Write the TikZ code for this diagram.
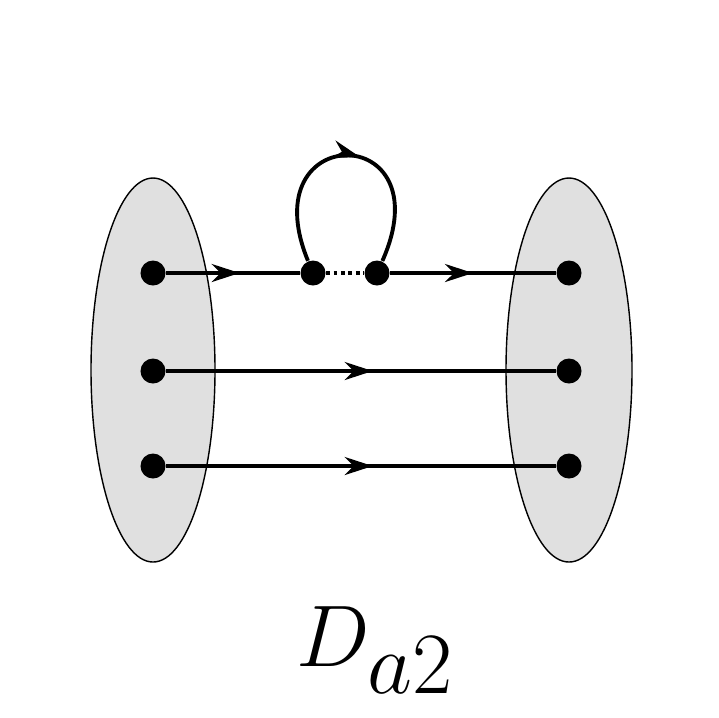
\documentclass[tikz,border=0pt]{standalone}
\usetikzlibrary{arrows.meta,decorations.markings}
\begin{document}
\begin{tikzpicture}[x=0.01cm,y=-0.01cm,
  dot/.style={circle,fill=black,minimum size=0.25cm,inner sep=0pt},
  blob/.style={draw,fill=black!12,thin},
  mid/.style={line width=1.1pt,postaction={decorate},decoration={markings,mark=at position #1 with {\arrow{Stealth[length=0.28cm,width=0.18cm]}}}}]
  \useasboundingbox (0,0) rectangle (719,717);
	\draw[blob] (153,370) ellipse (62 and 192);
	\draw[blob] (569,370) ellipse (63 and 192);

	\node[dot] (l1) at (153,273) {};
	\node[dot] (l2) at (153,371) {};
	\node[dot] (l3) at (153,466) {};
	\node[dot] (r1) at (569,273) {};
	\node[dot] (r2) at (569,371) {};
	\node[dot] (r3) at (569,466) {};
	\node[dot] (m1) at (313,273) {};
	\node[dot] (m2) at (377,273) {};

	\draw[mid=0.55] (l1) -- (m1);
	\draw[mid=0.5] (m2) -- (r1);
	\draw[line width=1.1pt,densely dotted] (m1) -- (m2);
	\draw[mid=0.53] (l2) -- (r2);
	\draw[mid=0.53] (l3) -- (r3);
	\draw[mid=0.55] (m1) .. controls (250,120) and (445,120) .. (m2);

	\node (lab) at (375,650) {\fontsize{50}{60}\selectfont $D_{a2}$};
\end{tikzpicture}
\end{document}
